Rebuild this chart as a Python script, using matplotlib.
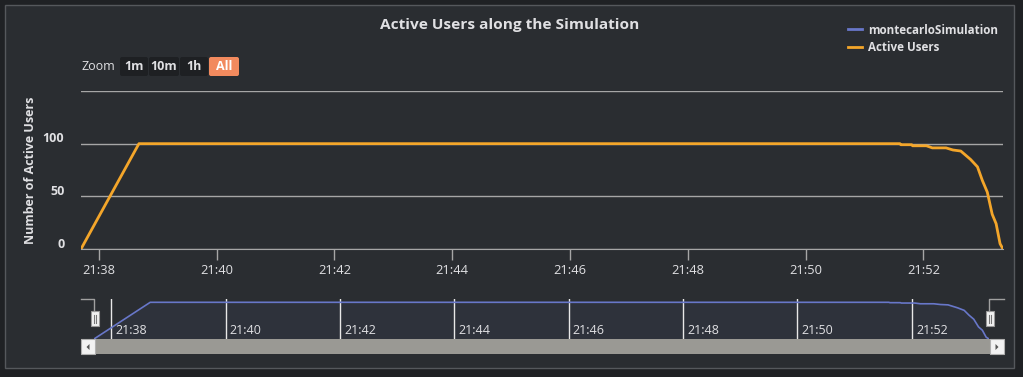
import matplotlib
matplotlib.use("Agg")
import matplotlib.pyplot as plt
import matplotlib.dates as mdates
from matplotlib.patches import Rectangle, FancyBboxPatch, Polygon
from matplotlib.transforms import ScaledTranslation, blended_transform_factory
import pandas as pd

# data (HH:MM:SS, active users)
times = ["21:37:42", "21:38:41", "21:51:36", "21:51:37", "21:51:48", "21:51:49",
         "21:52:03", "21:52:09", "21:52:23", "21:52:30", "21:52:38", "21:52:48",
         "21:52:55", "21:53:00", "21:53:05", "21:53:10", "21:53:14", "21:53:18",
         "21:53:21"]
users = [0, 100, 100, 99, 99, 98, 98, 96, 96, 94, 93, 85, 78, 65, 54, 33, 24, 5, 0]

y_ticks = [0, 50, 100, 150]
y_tick_labels = ["0", "50", "100", ""]
zoom_buttons = ["1m", "10m", "1h", "All"]
series_names = ["montecarloSimulation", "Active Users"]

OUTER = "#1f2124"
PANEL = "#2a2d31"
TEXT = "#e0e0e3"
GRID = "#a6a6a6"
ORANGE = "#f4a62a"
BLUE = "#6877c9"
W, H = 1023, 377

plt.rcParams["font.family"] = ["Open Sans", "DejaVu Sans"]

t = pd.to_datetime(["2020-01-01 " + s for s in times])
x = mdates.date2num(t)

fig = plt.figure(figsize=(W / 100, H / 100), dpi=100, facecolor=OUTER)


def px_axes(x0, y0, x1, y1, **kw):
    # pixel box (top-left origin) -> figure fraction axes
    return fig.add_axes([x0 / W, 1 - y1 / H, (x1 - x0) / W, (y1 - y0) / H], **kw)


# background panel
bg = px_axes(0, 0, W, H, zorder=-5)
bg.set_xlim(0, W)
bg.set_ylim(H, 0)
bg.axis("off")
bg.add_patch(Rectangle((5, 5), 1009, 363, facecolor=PANEL, edgecolor="#55585c", lw=1))

# main chart
ax = px_axes(81, 91, 1003, 249)
ax.set_facecolor(PANEL)
ax.plot(x, users, color=ORANGE, lw=2, solid_joinstyle="round", zorder=3)
ax.set_xlim(x[0], x[-1])
ax.set_ylim(0, 150)
ax.set_yticks(y_ticks)
ax.set_yticklabels(y_tick_labels)
ax.grid(axis="y", color=GRID, lw=1)
ax.set_axisbelow(True)
for s in ["top", "left", "right"]:
    ax.spines[s].set_visible(False)
ax.spines["bottom"].set_color(GRID)
ax.xaxis.set_major_locator(mdates.MinuteLocator(byminute=range(0, 60, 2)))
ax.xaxis.set_major_formatter(mdates.DateFormatter("%H:%M"))
ax.tick_params(axis="x", colors=GRID, length=8, width=1, labelcolor=TEXT, labelsize=9.3, pad=3)
ax.tick_params(axis="y", length=0, labelcolor=TEXT, labelsize=9, pad=12)
for lab in ax.get_yticklabels():
    lab.set_fontweight("bold")
    lab.set_transform(lab.get_transform() + ScaledTranslation(0, 4.5 / 72, fig.dpi_scale_trans))
ax.set_ylabel("Number of Active Users", color=TEXT, fontsize=9, fontweight="bold")
ax.yaxis.set_label_coords(-44 / 922, 0.5)

fig.text(510 / W, 1 - 25 / H, "Active Users along the Simulation", color=TEXT,
         fontsize=11.1, fontweight="bold", ha="center", va="center")

# navigator
nav = px_axes(94, 299, 989, 339)
nav.set_facecolor(PANEL)
nav_line, = nav.plot(x, users, color=BLUE, lw=1.2, zorder=3)
nav.fill_between(x, users, color=BLUE, alpha=0.07, lw=0)
nav.set_xlim(x[0], x[-1])
nav.set_ylim(0, 109)
nav.xaxis.set_major_locator(mdates.MinuteLocator(byminute=range(0, 60, 2)))
nav.set_yticks([])
nav.tick_params(axis="x", length=0, labelbottom=False)
nav.grid(axis="x", color="#e8e8e8", lw=1)
for s in nav.spines.values():
    s.set_visible(False)
tr = blended_transform_factory(nav.transData, nav.transAxes)
for tv in nav.get_xticks():
    nav.text(tv, 0.2, mdates.num2date(tv).strftime("%H:%M"), transform=tr
             + ScaledTranslation(3 / 72, 0, fig.dpi_scale_trans),
             color=TEXT, fontsize=9, ha="left", va="center")

# chrome overlay: zoom buttons, scrollbar, handles
ov = px_axes(0, 0, W, H, zorder=10)
ov.set_xlim(0, W)
ov.set_ylim(H, 0)
ov.axis("off")
ov.patch.set_alpha(0)

ov.text(81, 67, "Zoom", color=TEXT, fontsize=9, va="center", ha="left")
bx = [120, 149, 180, 209]
bw = [28, 30, 28, 30]
for lbl, x0, w in zip(zoom_buttons, bx, bw):
    sel = lbl == "All"
    ov.add_patch(FancyBboxPatch((x0, 57), w, 19, boxstyle="round,pad=0,rounding_size=2",
                                facecolor="#f28a5e" if sel else "#1e2023", edgecolor="none"))
    ov.text(x0 + w / 2, 66, lbl, color="#ffffff" if sel else TEXT, fontsize=9,
            fontweight="bold", ha="center", va="center")

ov.add_patch(Rectangle((81, 339), 923, 15, facecolor="#9a9994", edgecolor="none"))
for x0, d in [(81, -1), (990, 1)]:
    ov.add_patch(Rectangle((x0, 339), 14, 15, facecolor="#f2f2f2", edgecolor="#b0b0b0", lw=0.8))
    cx = x0 + 7
    ov.add_patch(Polygon([(cx - 1.5 * d, 344), (cx - 1.5 * d, 350), (cx + 1.5 * d, 347)],
                         facecolor="#555555", edgecolor="none"))

ov.plot([81, 94, 94], [299, 299, 311], color="#a0a0a0", lw=1)
ov.plot([1004, 989, 989], [299, 299, 311], color="#a0a0a0", lw=1)
for hx in [90.5, 985.5]:
    ov.add_patch(Rectangle((hx, 311), 8, 15, facecolor="#f2f2f2", edgecolor="#999999", lw=0.8))
    ov.plot([hx + 3, hx + 3], [314.5, 322.5], color="#777777", lw=0.8)
    ov.plot([hx + 5, hx + 5], [314.5, 322.5], color="#777777", lw=0.8)

# legend
leg = fig.legend([nav_line, ax.lines[0]], series_names, loc="upper left",
                 bbox_to_anchor=(848 / W, 1 - 23.5 / H), frameon=False, fontsize=8.4,
                 handlelength=1.2, handletextpad=0.55, labelspacing=0.38,
                 borderpad=0, borderaxespad=0)
for txt in leg.get_texts():
    txt.set_color(TEXT)
    txt.set_fontweight("bold")
for ln in leg.get_lines():
    ln.set_linewidth(2)

fig.savefig("out.png", dpi=100, facecolor=OUTER)
